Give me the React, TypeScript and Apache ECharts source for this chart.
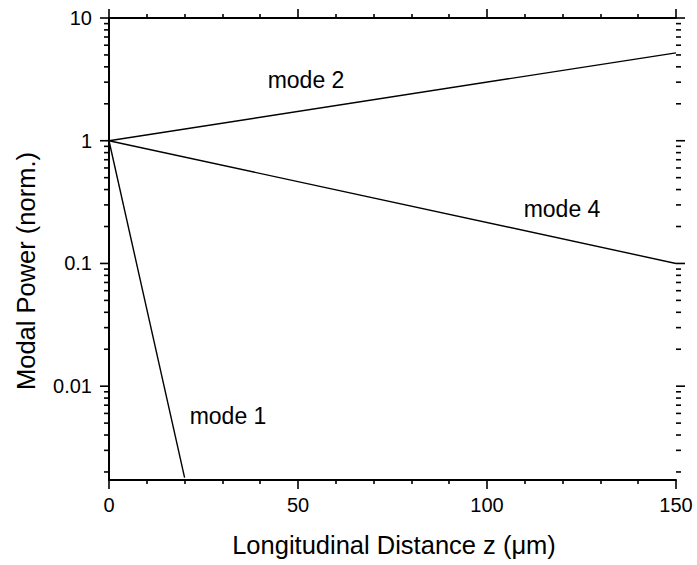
import React, { useEffect, useRef } from "react";
import * as echarts from "echarts";

// ---- data ----
const mode1Z = [0, 20];
const mode1P = [1, 0.0018];
const mode2Z = [0, 150];
const mode2P = [1, 5.2];
const mode4Z = [0, 150];
const mode4P = [1, 0.1];

const xMin = 0;
const xMax = 150;
const xStep = 50;
const yMin = 0.00172;
const yMax = 10;
const yMajorValues = [0.01, 0.1, 1, 10];
const yMajorLabels = ["0.01", "0.1", "1", "10"];
const yMinorMultipliers = [2, 3, 4, 5, 6, 7, 8, 9];
const yDecades = [0.001, 0.01, 0.1, 1];

const modeLabels = ["mode 1", "mode 2", "mode 4"];

const FONT = "Arial, 'Liberation Sans', Helvetica, sans-serif";

export default function App() {
  const ref = useRef<HTMLDivElement>(null);

  useEffect(() => {
    if (!ref.current) return;
    const chart = echarts.init(ref.current, null, { renderer: "svg" });

    const pairs = (zs: number[], ps: number[]) => zs.map((z, i) => [z, ps[i]]);

    // tick data: [x, value, length]
    const tickData: number[][] = [];
    yMajorValues.forEach((v) => tickData.push([0, v, 9]));
    yDecades.forEach((d) =>
      yMinorMultipliers.forEach((m) => {
        const v = d * m;
        if (v >= yMin && v <= yMax) tickData.push([0, v, 5]);
      })
    );

    const axisLine = { show: true, lineStyle: { color: "#000", width: 2 } };

    const xCommon = {
      type: "value",
      min: xMin,
      max: xMax,
      interval: xStep,
      splitLine: { show: false },
      axisLine,
      axisTick: { show: true, inside: false, length: 9, lineStyle: { color: "#000", width: 1.6 } },
      minorTick: { show: true, splitNumber: 5, length: 4, lineStyle: { color: "#000", width: 1.6 } },
    };

    const yCommon = {
      type: "log",
      logBase: 10,
      min: yMin,
      max: yMax,
      splitLine: { show: false },
      axisLine,
      axisTick: { show: false },
      minorTick: { show: false },
    };

    const lineSeries = (data: number[][]) => ({
      type: "line",
      data,
      showSymbol: false,
      symbol: "none",
      lineStyle: { color: "#000", width: 1.4 },
      xAxisIndex: 0,
      yAxisIndex: 0,
      clip: true,
      silent: true,
    });

    const labelStyle = (text: string) => ({
      text,
      fontSize: 23,
      fontFamily: FONT,
      fill: "#000",
      align: "center",
      verticalAlign: "middle",
    });

    chart.setOption({
      animation: false,
      backgroundColor: "#fff",
      grid: { left: 109, right: 21, top: 18, bottom: 85, containLabel: false },
      xAxis: [
        {
          ...xCommon,
          position: "bottom",
          axisLabel: { show: true, fontSize: 20, color: "#000", fontFamily: FONT, margin: 15 },
        },
        {
          ...xCommon,
          position: "top",
          axisLabel: { show: false },
        },
      ],
      yAxis: [
        {
          ...yCommon,
          position: "left",
          axisLabel: {
            show: true,
            fontSize: 20,
            color: "#000",
            fontFamily: FONT,
            margin: 17,
            formatter: (v: number) => {
              for (let i = 0; i < yMajorValues.length; i++) {
                if (Math.abs(Math.log10(v) - Math.log10(yMajorValues[i])) < 1e-6) return yMajorLabels[i];
              }
              return "";
            },
          },
        },
        {
          ...yCommon,
          position: "right",
          axisLabel: { show: false },
        },
      ],
      series: [
        lineSeries(pairs(mode1Z, mode1P)),
        lineSeries(pairs(mode2Z, mode2P)),
        lineSeries(pairs(mode4Z, mode4P)),
        {
          type: "custom",
          xAxisIndex: 0,
          yAxisIndex: 0,
          clip: false,
          silent: true,
          data: tickData,
          encode: { x: 0, y: 1 },
          renderItem: (params: any, api: any) => {
            const v = api.value(1);
            const len = api.value(2);
            const pL = api.coord([xMin, v]);
            const pR = api.coord([xMax, v]);
            const style = { stroke: "#000", lineWidth: 1.6 };
            return {
              type: "group",
              children: [
                { type: "line", shape: { x1: pL[0] - len, y1: pL[1], x2: pL[0], y2: pL[1] }, style },
                { type: "line", shape: { x1: pR[0], y1: pR[1], x2: pR[0] + len, y2: pR[1] }, style },
              ],
            };
          },
        },
      ],
      graphic: [
        { type: "text", x: 228, y: 416, style: labelStyle(modeLabels[0]) },
        { type: "text", x: 306, y: 80, style: labelStyle(modeLabels[1]) },
        { type: "text", x: 562, y: 209, style: labelStyle(modeLabels[2]) },
        {
          type: "text",
          x: 394,
          y: 545,
          style: {
            text: "Longitudinal Distance z (\u03bcm)",
            fontSize: 25.5,
            fontFamily: FONT,
            fill: "#000",
            align: "center",
            verticalAlign: "middle",
          },
        },
        {
          type: "text",
          x: 26,
          y: 271,
          rotation: Math.PI / 2,
          style: {
            text: "Modal Power (norm.)",
            fontSize: 25.5,
            fontFamily: FONT,
            fill: "#000",
            align: "center",
            verticalAlign: "middle",
          },
        },
      ],
    });

    return () => chart.dispose();
  }, []);

  return (
    <div
      ref={ref}
      style={{ position: "fixed", left: 0, top: 0, width: 697, height: 565, background: "#fff" }}
    />
  );
}
